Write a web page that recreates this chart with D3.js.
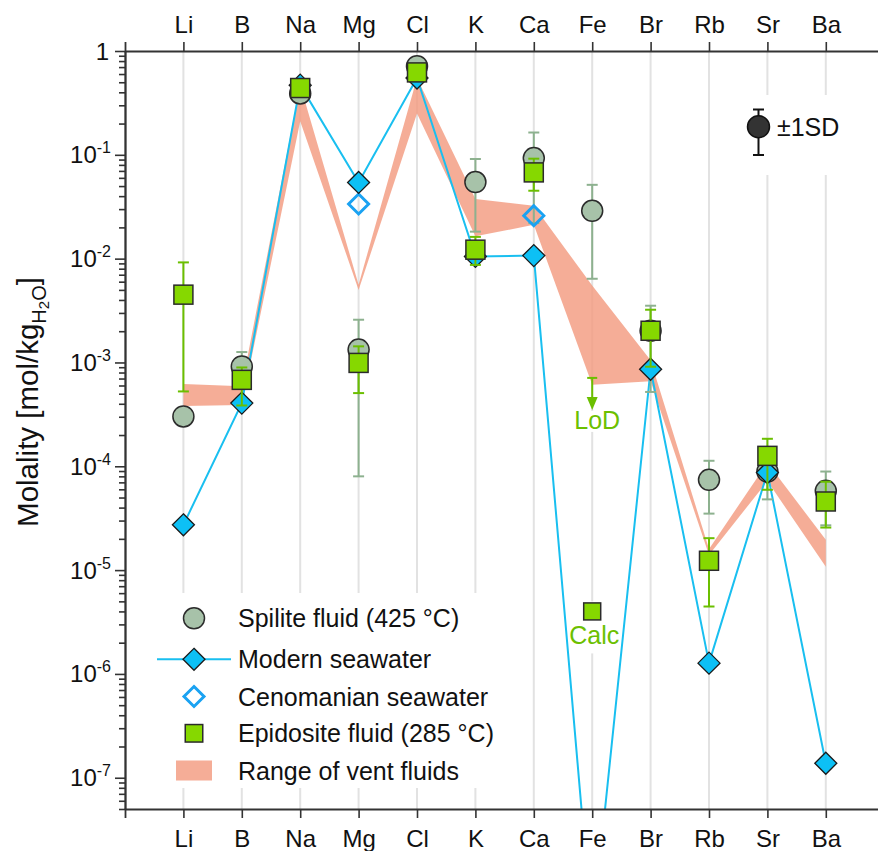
<!DOCTYPE html>
<html>
<head>
<meta charset="utf-8">
<script src="https://cdn.jsdelivr.net/npm/d3@7"></script>
<style>
  body { margin: 0; background: #fff; }
  svg { display: block; }
  text { font-family: "Liberation Sans", Arial, Helvetica, sans-serif; fill: #111; }
</style>
</head>
<body>
<svg id="chart" width="878" height="851"></svg>
<script>
// Elements along the x axis
const elements = ["Li", "B", "Na", "Mg", "Cl", "K", "Ca", "Fe", "Br", "Rb", "Sr", "Ba"];

// Spilite fluid (425 °C) and its ±1SD (null = no bar)
const spilite   = [3.02e-4, 9.15e-4, 0.39, 1.33e-3, 0.714, 0.0547, 0.093, 0.0289, 2.02e-3, 7.4e-5, 8.9e-5, 5.8e-5];
const spiliteSD = [null, 3.45e-4, null, 1.25e-3, null, 0.0365, 0.071, 0.0225, 1.5e-3, 3.9e-5, 4.1e-5, 3.1e-5];

// Modern seawater
const modernSeawater = [2.73e-5, 4.06e-4, 0.469, 0.0542, 0.55, 0.0105, 0.0107, 3.2e-9, 8.6e-4, 1.27e-6, 8.7e-5, 1.38e-7];

// Cenomanian seawater (Mg and Ca only)
const cenomanianSeawater = [null, null, null, 0.0336, null, null, 0.0259, null, null, null, null, null];

// Epidosite fluid (285 °C) with lower / upper bar ends
const epidosite     = [4.5e-3, 6.8e-4, 0.44, 9.9e-4, 0.622, 0.0122, 0.0677, null, 2.02e-3, 1.23e-5, 1.26e-4, 4.58e-5];
const epidositeLow  = [5.26e-4, 3.85e-4, null, 5.07e-4, null, 8.7e-3, 0.0451, null, 9.1e-4, 4.46e-6, 5.94e-5, 2.57e-5];
const epidositeHigh = [9.2e-3, 8.95e-4, null, 1.43e-3, null, 0.0162, 0.0918, null, 3.22e-3, 2.03e-5, 1.84e-4, 7.1e-5];
// Fe: limit of detection (upper bound) and calculated value
const epidositeFeLoD  = 7.1e-4;
const epidositeFeCalc = 4.0e-6;

// Range of vent fluids
const ventLow  = [3.8e-4, 3.9e-4, 0.21, 5.0e-3, 0.25, 0.0164, 0.0212, 6.1e-4, 6.6e-4, 1.4e-5, 7.2e-5, 1.08e-5];
const ventHigh = [6.2e-4, 5.9e-4, 0.47, 5.6e-3, 0.55, 0.0375, 0.0323, 5.5e-3, 1.05e-3, 1.6e-5, 1.08e-4, 1.96e-5];

// Decades labelled on the y axis
const yTickExponents = [0, -1, -2, -3, -4, -5, -6, -7];

// ---------------------------------------------------------------
const W = 878, H = 851;
const plotLeft = 125, plotTop = 51, plotBottom = 809;
const step = 58.4;

const svg = d3.select("#chart");
svg.append("rect").attr("width", W).attr("height", H).attr("fill", "#fff");

const x = d3.scalePoint().domain(elements).range([plotLeft, plotLeft + step * 13]).padding(1);
const y = d3.scaleLog().domain([5e-8, 1]).range([plotBottom, plotTop]);

const C = {
  grid: "#e2e2e2",
  axis: "#333",
  band: "#F39B80",
  sea: "#19BFF0",
  seaFill: "#0DC0F5",
  ceno: "#1AA2F2",
  spFill: "#A7C2A9",
  spBar: "#8DB18F",
  epFill: "#86D800",
  epBar: "#6BBF00",
  green: "#6CC000",
  edge: "#2b2b2b"
};

svg.append("defs").append("clipPath").attr("id", "plotClip")
  .append("rect").attr("x", plotLeft).attr("y", plotTop).attr("width", W - plotLeft).attr("height", plotBottom - plotTop);

// vertical grid lines
const grid = svg.append("g");
grid.selectAll("line").data(elements).join("line")
  .attr("x1", d => x(d)).attr("x2", d => x(d))
  .attr("y1", plotTop).attr("y2", plotBottom)
  .attr("stroke", C.grid).attr("stroke-width", 2);

// white panels behind the legends and the Fe annotations
const fx = x("Fe");
svg.append("rect").attr("x", 148).attr("y", 593).attr("width", 364).attr("height", 195).attr("fill", "#fff");
svg.append("rect").attr("x", 730).attr("y", 95).attr("width", 148).attr("height", 80).attr("fill", "#fff");
svg.append("rect").attr("x", fx - 23).attr("y", y(epidositeFeLoD) + 33).attr("width", 50).attr("height", 21).attr("fill", "#fff");
svg.append("rect").attr("x", fx - 24).attr("y", y(epidositeFeCalc) - 10).attr("width", 52).attr("height", 52).attr("fill", "#fff");

const plot = svg.append("g").attr("clip-path", "url(#plotClip)");

// range of vent fluids
const area = d3.area()
  .x((d, i) => x(elements[i]))
  .y0((d, i) => y(ventLow[i]))
  .y1((d, i) => y(ventHigh[i]));
plot.append("path").datum(elements).attr("d", area)
  .attr("fill", C.band).attr("fill-opacity", 0.82);

// modern seawater line
const line = d3.line().x((d, i) => x(elements[i])).y(d => y(d));
plot.append("path").datum(modernSeawater).attr("d", line)
  .attr("fill", "none").attr("stroke", C.sea).attr("stroke-width", 2);

function errorBar(g, cx, lo, hi, color) {
  const cap = 5.5;
  g.append("line").attr("x1", cx).attr("x2", cx).attr("y1", y(lo)).attr("y2", y(hi))
    .attr("stroke", color).attr("stroke-width", 2);
  [lo, hi].forEach(v => g.append("line")
    .attr("x1", cx - cap).attr("x2", cx + cap).attr("y1", y(v)).attr("y2", y(v))
    .attr("stroke", color).attr("stroke-width", 2));
}

function diamond(g, cx, cy, r, fill, stroke, sw) {
  g.append("path")
    .attr("d", `M${cx},${cy - r}L${cx + r},${cy}L${cx},${cy + r}L${cx - r},${cy}Z`)
    .attr("fill", fill).attr("stroke", stroke).attr("stroke-width", sw)
    .attr("stroke-linejoin", "miter");
}

function square(g, cx, cy, s) {
  g.append("rect").attr("x", cx - s / 2).attr("y", cy - s / 2).attr("width", s).attr("height", s)
    .attr("fill", C.epFill).attr("stroke", C.edge).attr("stroke-width", 1.5);
}

// spilite error bars and circles
const spG = plot.append("g");
spilite.forEach((v, i) => {
  if (spiliteSD[i] != null) errorBar(spG, x(elements[i]), v - spiliteSD[i], v + spiliteSD[i], C.spBar);
});
spilite.forEach((v, i) => {
  spG.append("circle").attr("cx", x(elements[i])).attr("cy", y(v)).attr("r", 10.5)
    .attr("fill", C.spFill).attr("stroke", C.edge).attr("stroke-width", 1.5);
});

// cenomanian seawater (open diamonds)
const cenG = plot.append("g");
cenomanianSeawater.forEach((v, i) => {
  if (v != null) diamond(cenG, x(elements[i]), y(v), 10, "none", C.ceno, 3);
});

// modern seawater diamonds
const seaG = plot.append("g");
modernSeawater.forEach((v, i) => diamond(seaG, x(elements[i]), y(v), 11, C.seaFill, "#1a1a1a", 1.3));

// epidosite bars and squares
const epG = plot.append("g");
epidosite.forEach((v, i) => {
  if (epidositeLow[i] != null) errorBar(epG, x(elements[i]), epidositeLow[i], epidositeHigh[i], C.epBar);
});
epidosite.forEach((v, i) => { if (v != null) square(epG, x(elements[i]), y(v), 19); });

// Fe: limit of detection arrow and calculated value
const annG = svg.append("g");
annG.append("line").attr("x1", fx - 5).attr("x2", fx + 5).attr("y1", y(epidositeFeLoD)).attr("y2", y(epidositeFeLoD))
  .attr("stroke", C.epBar).attr("stroke-width", 2);
annG.append("line").attr("x1", fx).attr("x2", fx).attr("y1", y(epidositeFeLoD)).attr("y2", y(epidositeFeLoD) + 22)
  .attr("stroke", C.epBar).attr("stroke-width", 2);
const tipY = y(epidositeFeLoD) + 32;
annG.append("path").attr("d", `M${fx - 5.5},${tipY - 13}L${fx + 5.5},${tipY - 13}L${fx},${tipY}Z`).attr("fill", C.epBar);
annG.append("text").attr("x", fx + 5).attr("y", y(epidositeFeLoD) + 51).attr("text-anchor", "middle")
  .attr("font-size", 25).style("fill", C.green).text("LoD");

square(annG, fx, y(epidositeFeCalc), 17);
annG.append("text").attr("x", fx + 2).attr("y", y(epidositeFeCalc) + 33).attr("text-anchor", "middle")
  .attr("font-size", 25).style("fill", C.green).text("Calc");

// ---------------- axes ----------------
function styleAxis(g) {
  g.selectAll("path.domain").attr("stroke", C.axis).attr("stroke-width", 1.8);
  g.selectAll(".tick line").attr("stroke", C.axis).attr("stroke-width", 1.6);
  g.selectAll(".tick text").attr("font-size", 24).attr("fill", "#111")
    .attr("font-family", "'Liberation Sans', Arial, sans-serif");
}

const xTop = svg.append("g").attr("transform", `translate(0,${plotTop})`)
  .call(d3.axisTop(x).tickSize(9).tickSizeOuter(9).tickPadding(9));
styleAxis(xTop);
const xBot = svg.append("g").attr("transform", `translate(0,${plotBottom})`)
  .call(d3.axisBottom(x).tickSize(9).tickSizeOuter(9).tickPadding(12));
styleAxis(xBot);
xBot.selectAll(".tick text").attr("dy", "0.71em");

const majors = yTickExponents.map(e => Math.pow(10, e));
const minors = [];
for (let e = -8; e < 0; e++) for (let m = 2; m <= 9; m++) {
  const v = m * Math.pow(10, e);
  if (v >= 5e-8 && v < 1) minors.push(v);
}
const yMinor = svg.append("g").attr("transform", `translate(${plotLeft},0)`)
  .call(d3.axisLeft(y).tickValues(minors).tickSize(6).tickSizeOuter(0).tickFormat(""));
styleAxis(yMinor);
const yMajor = svg.append("g").attr("transform", `translate(${plotLeft},0)`)
  .call(d3.axisLeft(y).tickValues(majors).tickSize(10).tickSizeOuter(0).tickFormat(""));
styleAxis(yMajor);

// y tick labels with superscript exponents
yTickExponents.forEach(e => {
  const t = svg.append("text").attr("x", 111).attr("y", y(Math.pow(10, e)) + 8.5)
    .attr("text-anchor", "end").attr("font-size", 24);
  if (e === 0) { t.attr("x", 109).text("1"); return; }
  t.append("tspan").text("10");
  t.append("tspan").attr("dy", -10).attr("font-size", 16).text(String(e));
});

// y axis title
const yt = svg.append("text").attr("transform", `translate(38,402) rotate(-90)`)
  .attr("text-anchor", "middle").attr("font-size", 29.5);
yt.append("tspan").text("Molality [mol/kg");
yt.append("tspan").attr("font-size", 20).attr("dy", 8).text("H");
yt.append("tspan").attr("font-size", 15).attr("dy", 3).text("2");
yt.append("tspan").attr("font-size", 20).attr("dy", -3).text("O");
yt.append("tspan").attr("dy", -8).text("]");

// ---------------- legend ----------------
const lg = svg.append("g");
const lx = 194, tx = 238;
const rows = [618.3, 659.3, 696.5, 733.3, 770.5];
const labels = ["Spilite fluid (425 °C)", "Modern seawater", "Cenomanian seawater", "Epidosite fluid (285 °C)", "Range of vent fluids"];
lg.append("circle").attr("cx", lx).attr("cy", rows[0]).attr("r", 10.5)
  .attr("fill", C.spFill).attr("stroke", C.edge).attr("stroke-width", 1.5);
lg.append("line").attr("x1", 157).attr("x2", 231).attr("y1", rows[1]).attr("y2", rows[1])
  .attr("stroke", C.sea).attr("stroke-width", 2);
diamond(lg, lx, rows[1], 11, C.seaFill, "#1a1a1a", 1.3);
diamond(lg, lx, rows[2], 10, "none", C.ceno, 3);
lg.append("rect").attr("x", lx - 8.75).attr("y", rows[3] - 8.75).attr("width", 17.5).attr("height", 17.5)
  .attr("fill", C.epFill).attr("stroke", C.edge).attr("stroke-width", 1.5);
lg.append("rect").attr("x", 176).attr("y", rows[4] - 10).attr("width", 36).attr("height", 20)
  .attr("fill", C.band).attr("fill-opacity", 0.82);
labels.forEach((s, i) => lg.append("text").attr("x", tx).attr("y", rows[i] + 9)
  .attr("font-size", 25).text(s));

// ±1SD key
const sd = svg.append("g");
const sx = 758.5, sy = 126.7;
sd.append("line").attr("x1", sx).attr("x2", sx).attr("y1", 109.5).attr("y2", 155).attr("stroke", "#111").attr("stroke-width", 2);
[109.5, 155].forEach(v => sd.append("line").attr("x1", sx - 5.5).attr("x2", sx + 5.5).attr("y1", v).attr("y2", v)
  .attr("stroke", "#111").attr("stroke-width", 2));
sd.append("circle").attr("cx", sx).attr("cy", sy).attr("r", 11).attr("fill", "#333").attr("stroke", "#111").attr("stroke-width", 1.5);
sd.append("text").attr("x", 777).attr("y", sy + 9).attr("font-size", 25).text("±1SD");
</script>
</body>
</html>
